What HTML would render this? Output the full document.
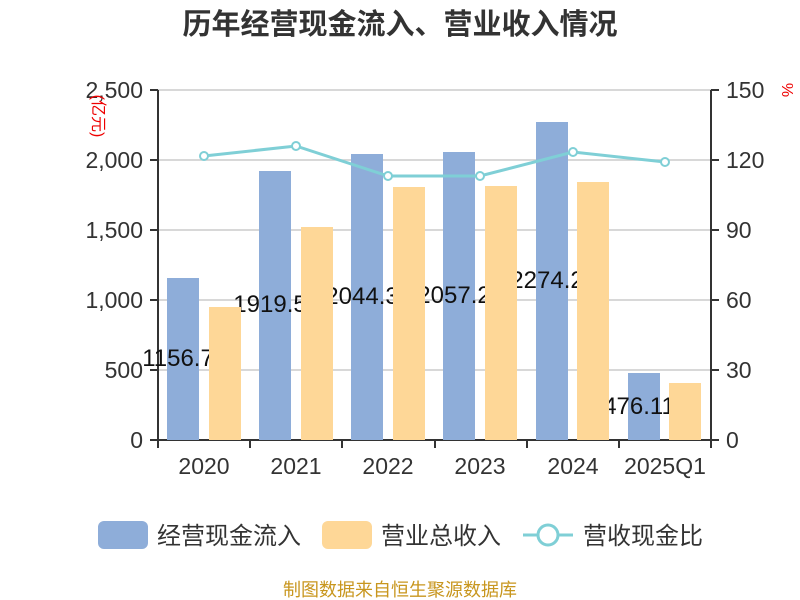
<!DOCTYPE html>
<html><head><meta charset="utf-8"><style>body{margin:0;background:#fff}svg{display:block}text{font-family:"Liberation Sans","Noto Sans CJK SC",sans-serif}</style></head><body>
<svg width="800" height="600" xmlns="http://www.w3.org/2000/svg">
<text x="400" y="34" font-size="29" font-weight="bold" fill="#333" text-anchor="middle">历年经营现金流入、营业收入情况</text>
<g stroke="#ccc" stroke-width="1.5">
<line x1="158" y1="90" x2="711" y2="90"/><line x1="158" y1="160" x2="711" y2="160"/><line x1="158" y1="230" x2="711" y2="230"/><line x1="158" y1="300" x2="711" y2="300"/><line x1="158" y1="370" x2="711" y2="370"/>
</g>
<g stroke="#333" stroke-width="2">
<line x1="158" y1="90" x2="158" y2="440"/><line x1="711" y1="90" x2="711" y2="440"/><line x1="150" y1="440" x2="711" y2="440"/>
<line x1="150" y1="90" x2="158" y2="90"/><line x1="150" y1="160" x2="158" y2="160"/><line x1="150" y1="230" x2="158" y2="230"/><line x1="150" y1="300" x2="158" y2="300"/><line x1="150" y1="370" x2="158" y2="370"/>
<line x1="711" y1="90" x2="719" y2="90"/><line x1="711" y1="160" x2="719" y2="160"/><line x1="711" y1="230" x2="719" y2="230"/><line x1="711" y1="300" x2="719" y2="300"/><line x1="711" y1="370" x2="719" y2="370"/><line x1="711" y1="440" x2="719" y2="440"/>
<line x1="158" y1="440" x2="158" y2="448"/><line x1="250" y1="440" x2="250" y2="448"/><line x1="342" y1="440" x2="342" y2="448"/><line x1="435" y1="440" x2="435" y2="448"/><line x1="527" y1="440" x2="527" y2="448"/><line x1="619" y1="440" x2="619" y2="448"/><line x1="711" y1="440" x2="711" y2="448"/>
</g>
<g font-size="23" fill="#333" text-anchor="end">
<text x="143" y="98">2,500</text><text x="143" y="168">2,000</text><text x="143" y="238">1,500</text><text x="143" y="308">1,000</text><text x="143" y="378">500</text><text x="143" y="448">0</text>
</g>
<g font-size="23" fill="#333" text-anchor="start">
<text x="726" y="98">150</text><text x="726" y="168">120</text><text x="726" y="238">90</text><text x="726" y="308">60</text><text x="726" y="378">30</text><text x="726" y="448">0</text>
</g>
<g font-size="23" fill="#333" text-anchor="middle">
<text x="204" y="474">2020</text><text x="296" y="474">2021</text><text x="388" y="474">2022</text><text x="480" y="474">2023</text><text x="573" y="474">2024</text><text x="665" y="474">2025Q1</text>
</g>
<text transform="translate(93,116) rotate(90)" font-size="16" fill="#e00" text-anchor="middle">(亿元)</text>
<text transform="translate(782,90) rotate(90)" font-size="16" fill="#e00" text-anchor="middle">%</text>
<g fill="#8eadd9">
<rect x="167" y="278" width="32" height="162"/><rect x="259" y="171" width="32" height="269"/><rect x="351" y="154" width="32" height="286"/><rect x="443" y="152" width="32" height="288"/><rect x="536" y="122" width="32" height="318"/><rect x="628" y="373" width="32" height="67"/>
</g>
<g font-size="24" fill="#111" text-anchor="middle">
<text x="178" y="366">1156.7</text><text x="270" y="312">1919.5</text><text x="362" y="304">2044.3</text><text x="454" y="303">2057.2</text><text x="547" y="288">2274.2</text><text x="639" y="414">476.11</text>
</g>
<g fill="#fed797">
<rect x="209" y="307" width="32" height="133"/><rect x="301" y="227" width="32" height="213"/><rect x="393" y="187" width="32" height="253"/><rect x="485" y="186" width="32" height="254"/><rect x="577" y="182" width="32" height="258"/><rect x="669" y="383" width="32" height="57"/>
</g>
<polyline points="204,156 296,146 388,176 480,176 573,152 665,162" fill="none" stroke="#7fcfd6" stroke-width="3"/>
<g fill="#fff" stroke="#7fcfd6" stroke-width="2">
<circle cx="204" cy="156" r="4"/><circle cx="296" cy="146" r="4"/><circle cx="388" cy="176" r="4"/><circle cx="480" cy="176" r="4"/><circle cx="573" cy="152" r="4"/><circle cx="665" cy="162" r="4"/>
</g>
<rect x="98" y="521" width="50" height="28" rx="6" fill="#8eadd9"/>
<text x="157" y="544" font-size="24" fill="#333">经营现金流入</text>
<rect x="322" y="521" width="50" height="28" rx="6" fill="#fed797"/>
<text x="381" y="544" font-size="24" fill="#333">营业总收入</text>
<line x1="523" y1="535" x2="573" y2="535" stroke="#7fcfd6" stroke-width="3"/>
<circle cx="548" cy="535" r="10" fill="#fff" stroke="#7fcfd6" stroke-width="3"/>
<text x="583" y="544" font-size="24" fill="#333">营收现金比</text>
<text x="400" y="596" font-size="18" fill="#c8961e" text-anchor="middle">制图数据来自恒生聚源数据库</text>
</svg>
</body></html>
